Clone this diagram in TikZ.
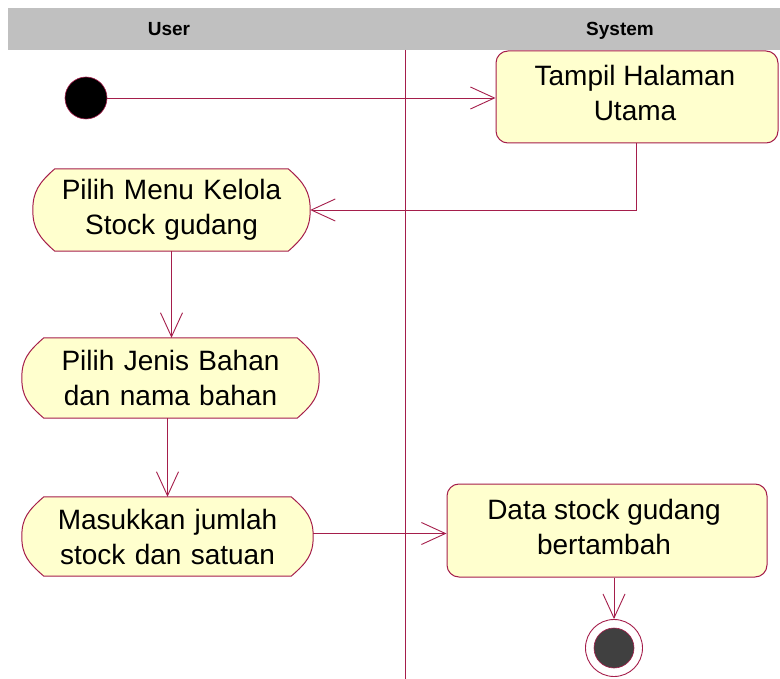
\documentclass[tikz,border=0pt]{standalone}
\usepackage{fontspec}
\setmainfont{Liberation Sans}
\usetikzlibrary{arrows.meta,calc,backgrounds}
\definecolor{lanec}{RGB}{165,30,75}
\definecolor{actfill}{RGB}{255,255,206}
\definecolor{hdrgray}{RGB}{192,192,192}
\definecolor{endfill}{RGB}{64,64,64}
\tikzset{
  x=1pt, y=-1pt,
  actline/.style={draw=lanec, line width=1pt, fill=actfill},
  acttext/.style={align=center, inner sep=0pt, font=\fontsize{28}{35}\selectfont},
  roundbox/.style={actline, rounded corners=12pt, inner sep=0pt},
  conn/.style={draw=lanec, line width=0.9pt, -{Straight Barb[length=24pt,width=22pt,line width=0.9pt]}},
  hdrtext/.style={font=\bfseries\fontsize{19}{22}\selectfont, inner sep=0pt, anchor=base},
}
\newcommand\actoutline[1]{%
  \begin{scope}[on background layer]
  \draw[actline] ($(#1.north west)+(22,0)$)
    .. controls ($(#1.north west)+(6,14)$) and ($(#1.west)+(0,-18)$) .. (#1.west)
    .. controls ($(#1.west)+(0,18)$) and ($(#1.south west)+(6,-14)$) .. ($(#1.south west)+(22,0)$)
    -- ($(#1.south east)+(-22,0)$)
    .. controls ($(#1.south east)+(-6,-14)$) and ($(#1.east)+(0,18)$) .. (#1.east)
    .. controls ($(#1.east)+(0,-18)$) and ($(#1.north east)+(-6,14)$) .. ($(#1.north east)+(-22,0)$)
    -- cycle;
  \end{scope}}
\begin{document}
\begin{tikzpicture}
\useasboundingbox (0,0) rectangle (780,679);
\begin{scope}[on background layer]
\fill[white] (0,0) rectangle (780,679);
\end{scope}
% header
\fill[hdrgray] (8,8) rectangle (780,50);
\node[hdrtext] (user) at (169,36) {User};
\node[hdrtext] (system) at (620,36) {System};
% lane divider
\coordinate (laneTop) at (405,50);
\coordinate (laneBot) at (405,679);
\draw[lanec, line width=0.9pt] (laneTop) -- (laneBot);
% nodes
\node[circle, fill=black, draw=lanec, line width=0.6pt, minimum size=42pt, inner sep=0pt] (init) at (86,98) {};
\node[roundbox, minimum width=282pt, minimum height=92pt] (tampil) at (637,97) {};
\node[acttext] (tampiltxt) at ($(tampil.center)+(-2,-4)$) {Tampil Halaman\\Utama};
\node[acttext, text width=277pt, minimum height=82pt] (menu) at (171.5,210) {Pilih Menu Kelola\\Stock gudang};
\actoutline{menu}
\node[acttext, text width=297pt, minimum height=80pt] (jenis) at (170.5,378) {Pilih Jenis Bahan\\dan nama bahan};
\actoutline{jenis}
\node[acttext, text width=291pt, minimum height=79pt] (masuk) at (167.5,536.5) {Masukkan jumlah\\stock dan satuan};
\actoutline{masuk}
\node[roundbox, minimum width=320pt, minimum height=93pt] (data) at (607,530.5) {};
\node[acttext] (datatxt) at ($(data.center)+(-3,-4)$) {Data stock gudang\\bertambah};
\node[circle, draw=lanec, fill=white, line width=0.9pt, minimum size=57pt, inner sep=0pt] (fin) at (614,648) {};
\node[circle, draw=lanec, fill=endfill, line width=0.6pt, minimum size=40pt, inner sep=0pt] (finin) at (fin.center) {};
% connectors
\draw[conn] (init.east) -- (init.east -| tampil.west);
\draw[conn] (tampil.south -| 636,0) |- (menu.east);
\draw[conn] (menu.south) -- (menu.south |- jenis.north);
\draw[conn] (masuk.north |- jenis.south) -- (masuk.north);
\draw[conn] ($(masuk.east)+(0,-3)$) -- ($(masuk.east -| data.west)+(0,-3)$);
\draw[conn] (fin.north |- data.south) -- (fin.north);
\end{tikzpicture}
\end{document}
